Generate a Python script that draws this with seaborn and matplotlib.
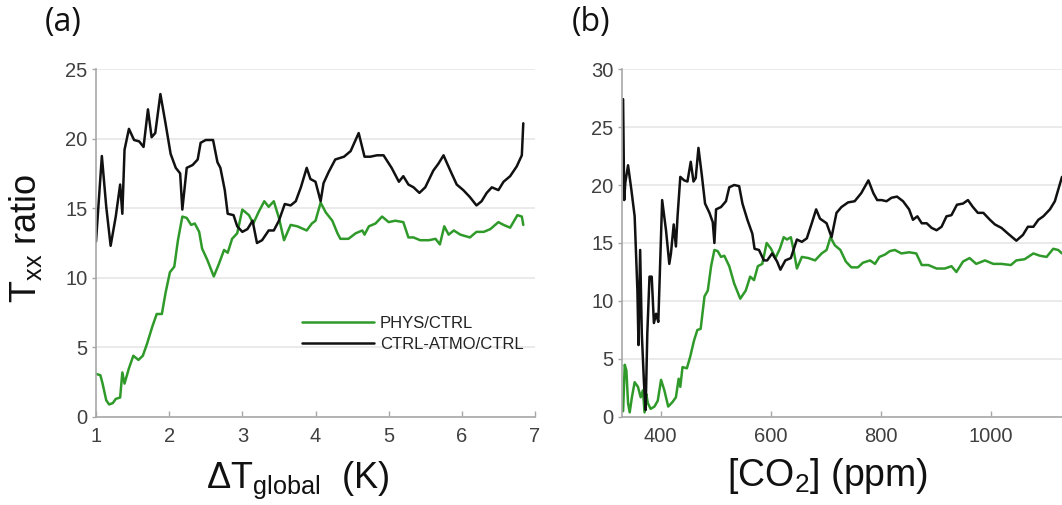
import matplotlib
matplotlib.use("Agg")
import matplotlib.pyplot as plt
import seaborn as sns
import pandas as pd

# ---------------- data ----------------
dT_ctrl_atmo = [1.0,1.08,1.14,1.2,1.27,1.33,1.36,1.39,1.45,1.52,
                1.59,1.65,1.71,1.76,1.81,1.88,1.95,2.02,2.09,2.15,
                2.18,2.24,2.32,2.39,2.43,2.5,2.6,2.66,2.7,2.76,
                2.8,2.88,2.93,3.0,3.07,3.14,3.2,3.27,3.36,3.43,
                3.5,3.58,3.66,3.73,3.8,3.88,3.93,4.0,4.07,4.11,
                4.18,4.27,4.39,4.48,4.59,4.67,4.75,4.84,4.93,5.04,
                5.14,5.2,5.27,5.34,5.42,5.5,5.61,5.68,5.75,5.8,
                5.86,5.93,6.02,6.11,6.2,6.27,6.34,6.41,6.5,6.57,
                6.66,6.75,6.82,6.84]
ratio_ctrl_atmo_dT = [12.6,18.75,15.1,12.3,14.4,16.7,14.6,19.2,20.7,19.9,
                      19.8,19.4,22.1,20.1,20.4,23.2,21.1,18.9,17.9,17.5,
                      14.9,17.9,18.1,18.5,19.7,19.9,19.9,18.3,17.9,16.3,
                      14.6,14.5,13.7,13.3,13.5,14.1,12.5,12.7,13.4,13.4,
                      14.1,15.3,15.2,15.5,16.5,17.9,17.1,16.9,15.5,16.8,
                      17.6,18.5,18.7,19.1,20.4,18.7,18.7,18.8,18.8,17.9,
                      16.9,17.3,16.7,16.5,16.1,16.5,17.7,18.2,18.8,18.2,
                      17.5,16.7,16.3,15.8,15.2,15.5,16.1,16.5,16.3,16.9,
                      17.3,18.0,18.8,21.1]

dT_phys = [1.0,1.06,1.09,1.14,1.18,1.23,1.27,1.33,1.36,1.39,
           1.45,1.51,1.58,1.64,1.7,1.77,1.83,1.9,1.95,2.01,
           2.07,2.12,2.18,2.24,2.3,2.35,2.41,2.45,2.52,2.61,
           2.68,2.75,2.8,2.86,2.93,3.0,3.09,3.15,3.22,3.3,
           3.36,3.43,3.5,3.57,3.66,3.75,3.88,3.95,4.0,4.07,
           4.14,4.23,4.3,4.34,4.45,4.55,4.64,4.67,4.73,4.82,
           4.91,5.0,5.09,5.2,5.27,5.34,5.43,5.55,5.64,5.7,
           5.76,5.82,5.89,5.98,6.11,6.2,6.3,6.39,6.5,6.57,
           6.66,6.76,6.82,6.84]
ratio_phys_dT = [3.1,3.0,2.4,1.2,0.9,1.0,1.3,1.4,3.2,2.4,
                 3.5,4.4,4.1,4.4,5.3,6.5,7.4,7.4,8.9,10.4,
                 10.8,12.7,14.4,14.3,13.8,13.9,13.3,12.1,11.3,10.1,
                 11.0,12.0,11.8,12.8,13.2,14.9,14.5,13.9,14.7,15.5,
                 15.1,15.5,14.3,12.7,13.8,13.7,13.4,13.9,14.1,15.4,
                 14.7,14.1,13.2,12.8,12.8,13.2,13.4,13.1,13.7,13.9,
                 14.4,14.0,14.1,14.0,12.9,12.9,12.7,12.7,12.8,12.4,
                 13.7,13.1,13.4,13.1,12.9,13.3,13.3,13.5,14.0,13.8,
                 13.6,14.5,14.4,13.8]

co2_ctrl_atmo = [332,334,336,341,347,353,358,360,363,366,
                 370,373,376,380,384,388,392,396,403,410,
                 416,419,424,428,431,436,443,449,455,460,
                 464,469,475,481,489,495,498,501,510,519,
                 525,534,543,549,558,567,571,579,588,594,
                 603,612,618,627,637,648,657,666,675,683,
                 690,702,711,720,729,741,753,765,778,787,
                 794,802,811,820,830,841,852,859,867,875,
                 884,893,902,911,920,929,939,950,959,968,
                 977,987,999,1008,1020,1032,1047,1059,1068,1078,
                 1087,1096,1108,1117,1125,1130]
ratio_ctrl_atmo_co2 = [27.4,18.7,20.2,21.7,19.6,17.3,10.9,6.2,14.4,7.2,
                       2.9,0.6,7.2,12.1,12.1,8.1,8.9,8.2,18.7,16.1,
                       13.2,14.1,16.6,14.7,17.3,20.7,20.4,20.3,22.0,20.3,
                       20.6,23.2,20.9,18.4,17.6,16.8,15.0,17.9,18.1,18.6,
                       19.8,20.0,19.9,18.4,17.0,15.8,14.5,14.4,13.5,13.5,
                       14.1,13.4,12.7,13.5,13.7,15.3,15.1,15.4,16.7,17.9,
                       17.1,16.7,15.5,17.6,18.1,18.5,18.6,19.3,20.4,19.3,
                       18.7,18.7,18.6,18.9,19.0,18.6,17.9,17.0,17.3,16.7,
                       16.7,16.3,16.1,16.4,17.3,17.4,18.3,18.4,18.7,18.1,
                       17.6,17.6,17.0,16.6,16.3,15.8,15.2,15.7,16.4,16.4,
                       17.0,17.3,17.9,18.6,19.9,20.7]

co2_phys = [332,335,338,341,344,348,353,359,364,368,
            371,374,377,382,389,395,401,407,414,422,
            428,433,436,440,448,454,461,467,473,480,
            486,492,498,504,510,516,525,534,545,555,
            563,570,577,585,593,601,609,617,624,630,
            637,642,648,657,669,681,693,702,709,717,
            727,737,747,759,768,781,790,798,808,817,
            826,838,852,865,875,887,902,917,929,938,
            950,962,974,990,1005,1020,1037,1047,1062,1078,
            1090,1102,1114,1123,1130]
ratio_phys_co2 = [0.5,4.5,4.0,1.2,0.4,1.7,3.0,2.6,1.7,2.3,
                  0.4,2.0,1.2,0.7,0.9,1.4,3.2,2.3,0.9,1.3,
                  1.7,3.3,2.6,4.3,4.2,5.2,6.6,7.5,7.6,10.4,
                  10.9,13.0,14.4,14.3,13.8,13.9,13.0,11.5,10.2,10.9,
                  12.1,11.8,13.0,13.2,15.0,14.5,13.7,14.5,15.5,15.3,
                  15.5,14.4,12.8,13.8,13.7,13.5,14.1,14.4,15.5,14.8,
                  14.4,13.4,12.9,12.9,13.3,13.5,13.2,13.8,14.0,14.3,
                  14.4,14.1,14.2,14.1,13.1,13.1,12.8,12.8,13.0,12.5,
                  13.4,13.7,13.2,13.5,13.2,13.2,13.1,13.5,13.6,14.1,
                  13.9,13.8,14.5,14.4,14.1]

series_labels = ["PHYS/CTRL", "CTRL-ATMO/CTRL"]
left_yticks = [0, 5, 10, 15, 20, 25]
left_xticks = [1, 2, 3, 4, 5, 6, 7]
right_yticks = [0, 5, 10, 15, 20, 25, 30]
right_xticks = [400, 600, 800, 1000]

# ---------------- style ----------------
sns.set_style("white")
plt.rcParams["font.family"] = ["Liberation Sans", "DejaVu Sans"]
plt.rcParams["mathtext.default"] = "regular"

GREEN = "#2f9a2a"
BLACK = "#111111"
SPINE = "#a8a8a8"
GRID = "#e6e6e6"
TICKLBL = "#404040"

fig = plt.figure(figsize=(10.62, 5.05), dpi=100)
W, H = 1062, 505
axL = fig.add_axes([96 / W, (H - 417) / H, (535 - 96) / W, 348 / H])
axR = fig.add_axes([622 / W, (H - 417) / H, (1062 - 622) / W, 348 / H])


def style(ax, yt, xt):
    for s in ["top", "right"]:
        ax.spines[s].set_visible(False)
    for s in ["left", "bottom"]:
        ax.spines[s].set_color(SPINE)
        ax.spines[s].set_linewidth(1.2)
    ax.set_yticks(yt)
    ax.set_xticks(xt)
    ax.yaxis.grid(True, color=GRID, linewidth=1.2)
    ax.xaxis.grid(False)
    ax.set_axisbelow(True)
    ax.tick_params(axis="y", direction="out", length=3, width=1, color=SPINE,
                   labelcolor=TICKLBL, labelsize=14.5, pad=3, left=True)
    ax.tick_params(axis="x", direction="in", length=4, width=1, color=SPINE,
                   labelcolor=TICKLBL, labelsize=14.5, pad=7, bottom=True)
    ax.set_xlabel("")
    ax.set_ylabel("")


# left panel
dfL_phys = pd.DataFrame({"x": dT_phys, "y": ratio_phys_dT})
dfL_atmo = pd.DataFrame({"x": dT_ctrl_atmo, "y": ratio_ctrl_atmo_dT})
sns.lineplot(data=dfL_phys, x="x", y="y", ax=axL, color=GREEN, linewidth=1.8,
             estimator=None, sort=False, label=series_labels[0])
sns.lineplot(data=dfL_atmo, x="x", y="y", ax=axL, color=BLACK, linewidth=1.8,
             estimator=None, sort=False, label=series_labels[1])
axL.set_xlim(1, 7)
axL.set_ylim(0, 25)
style(axL, left_yticks, left_xticks)
leg = axL.legend(loc="upper left", bbox_to_anchor=(0.47, 0.29), frameon=False,
                 fontsize=12, handlelength=4.3, handletextpad=0.35,
                 borderaxespad=0, borderpad=0, labelspacing=0.35)
for t in leg.get_texts():
    t.set_color("#222222")

# right panel
dfR_phys = pd.DataFrame({"x": co2_phys, "y": ratio_phys_co2})
dfR_atmo = pd.DataFrame({"x": co2_ctrl_atmo, "y": ratio_ctrl_atmo_co2})
sns.lineplot(data=dfR_phys, x="x", y="y", ax=axR, color=GREEN, linewidth=1.8,
             estimator=None, sort=False, legend=False)
sns.lineplot(data=dfR_atmo, x="x", y="y", ax=axR, color=BLACK, linewidth=1.8,
             estimator=None, sort=False, legend=False)
axR.set_xlim(330, 1130)
axR.set_ylim(0, 30)
style(axR, right_yticks, right_xticks)

# labels
fig.text(25 / W, 1 - 238 / H, r"T$_{xx}$ ratio", rotation=90, fontsize=26,
         ha="center", va="center", color="#111111")
fig.text(298 / W, 1 - 488 / H, r"$\Delta$T$_{global}$  (K)", fontsize=26,
         ha="center", va="baseline", color="#111111")
fig.text(828 / W, 1 - 486 / H, r"[CO$_{2}$] (ppm)", fontsize=27,
         ha="center", va="baseline", color="#111111")
fig.text(63 / W, 1 - 22 / H, "(a)", fontsize=23, ha="center", va="center",
         family=["Open Sans", "DejaVu Sans"], color="#111111")
fig.text(591 / W, 1 - 22 / H, "(b)", fontsize=23, ha="center", va="center",
         family=["Open Sans", "DejaVu Sans"], color="#111111")

fig.savefig("out.png", dpi=100)
